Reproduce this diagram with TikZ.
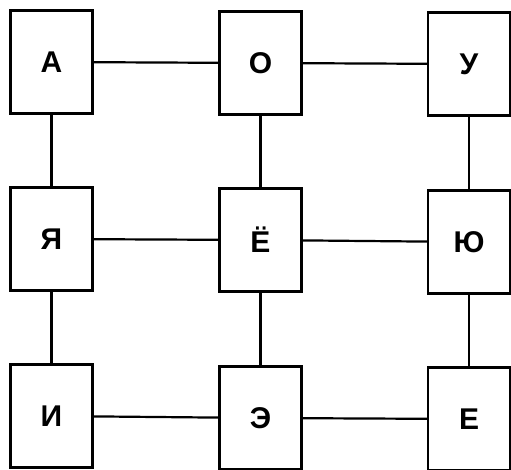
\documentclass[tikz,border=0pt]{standalone}
\usepackage{fontspec}
\setmainfont{Liberation Sans}
\usetikzlibrary{positioning}

\begin{document}
\begin{tikzpicture}[x=1pt, y=-1pt, every node/.style={draw, line width=2.2pt, minimum width=82pt, minimum height=103pt, inner sep=0pt, font=\fontsize{30}{30}\selectfont\bfseries}]

        \useasboundingbox (0, 0) rectangle (511, 470);

        % top row
        \node (a) at (51.5, 62) {А};
        \node (o) at (260.5, 63) {О};
        \node (u) at (469, 64) {У};

        % middle row
        \node (ya) at (51.5, 239) {Я};
        \node (yo) at (260.5, 240) {Ё};
        \node (yu) at (469, 242) {Ю};

        % bottom row
        \node (i) at (51.5, 416) {И};
        \node (e) at (260.5, 418) {Э};
        \node (ye) at (469, 419) {Е};

        \draw[line width=2.2pt] (a) -- (o);
        \draw[line width=2.2pt] (o) -- (u);
        \draw[line width=2.2pt] (ya) -- (yo);
        \draw[line width=2.2pt] (yo) -- (yu);
        \draw[line width=2.2pt] (i) -- (e);
        \draw[line width=2.2pt] (e) -- (ye);

        \draw[line width=2.2pt] (a) -- (ya);
        \draw[line width=2.2pt] (ya) -- (i);
        \draw[line width=2.2pt] (o) -- (yo);
        \draw[line width=2.2pt] (yo) -- (e);
        \draw[line width=2.2pt] (u) -- (yu);
        \draw[line width=2.2pt] (yu) -- (ye);

      \end{tikzpicture}
\end{document}
